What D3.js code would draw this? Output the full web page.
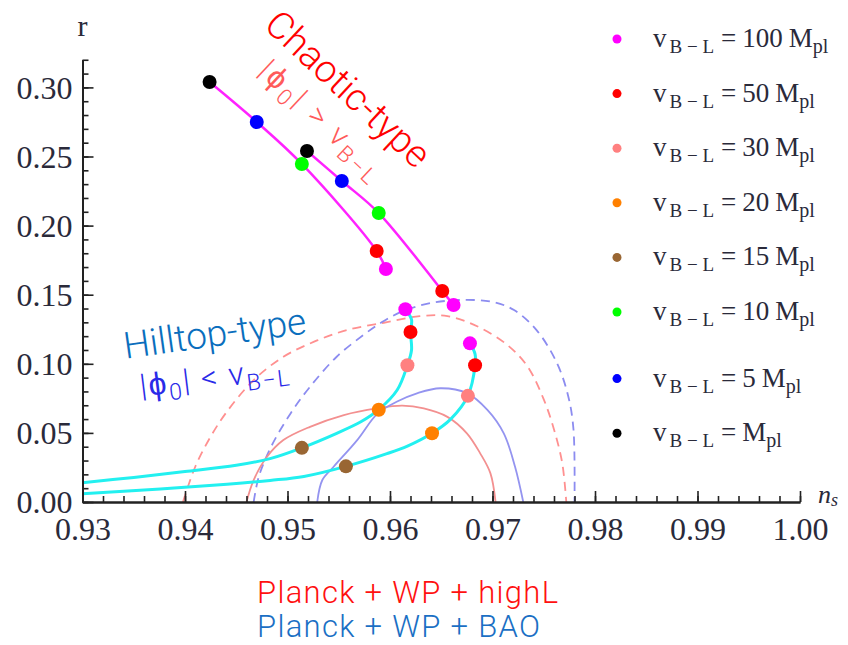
<!DOCTYPE html>
<html>
<head>
<meta charset="utf-8">
<script src="https://cdn.jsdelivr.net/npm/d3@7/dist/d3.min.js"></script>
<style>
  body { margin: 0; background: #fff; }
  svg { display: block; }
</style>
</head>
<body>
<script>
//---->DATA<-----//
// legend categories, v_B-L in units of M_pl
const vKeys = ['100', '50', '30', '20', '15', '10', '5', '1'];
const vLabels = ['100', '50', '30', '20', '15', '10', '5', ''];
const vColors = ['#ff00ff', '#ff0000', '#ff8080', '#ff8000', '#996633', '#00ff00', '#0000ff', '#000000'];

// chaotic-type branches: [v, n_s, r]
const chaoticA = [['1', 0.9424, 0.3039], ['5', 0.9470, 0.2750], ['10', 0.9514, 0.2446], ['50', 0.9587, 0.1816], ['100', 0.9596, 0.1686]];
const chaoticB = [['1', 0.9519, 0.2540], ['5', 0.9553, 0.2323], ['10', 0.9589, 0.2091], ['50', 0.9651, 0.1527], ['100', 0.9662, 0.1425]];

// hilltop-type branches: curve [n_s, r] and points [v, n_s, r]
const hilltopCurveA = [[0.930, 0.0140], [0.935, 0.0178], [0.940, 0.0220], [0.945, 0.0266], [0.9483, 0.0314], [0.9514, 0.0392], [0.9548, 0.0497], [0.9572, 0.0582], [0.9589, 0.0668], [0.9607, 0.0810], [0.9617, 0.0990], [0.9621, 0.1100], [0.9620, 0.1230], [0.9621, 0.1320], [0.9615, 0.1395]];
const hilltopCurveB = [[0.930, 0.0060], [0.9376, 0.0094], [0.9441, 0.0128], [0.9483, 0.0156], [0.9516, 0.0185], [0.9557, 0.0258], [0.9597, 0.0350], [0.9617, 0.0405], [0.9641, 0.0498], [0.9659, 0.0598], [0.9676, 0.0768], [0.9683, 0.0990], [0.9683, 0.1070], [0.9678, 0.1148]];
const hilltopDotsA = [['15', 0.9514, 0.0392], ['20', 0.9589, 0.0668], ['30', 0.9617, 0.0990], ['50', 0.9620, 0.1230], ['100', 0.9615, 0.1395]];
const hilltopDotsB = [['15', 0.9557, 0.0258], ['20', 0.9641, 0.0498], ['30', 0.9676, 0.0768], ['50', 0.9683, 0.0990], ['100', 0.9678, 0.1148]];

// Planck contours [n_s, r]
const highL68 = [[0.9460, 0], [0.9467, 0.0159], [0.9480, 0.0327], [0.9496, 0.0448], [0.9522, 0.0544], [0.9555, 0.0629], [0.9587, 0.0677], [0.9612, 0.0697], [0.9633, 0.0677], [0.9656, 0.0616], [0.9675, 0.0497], [0.9688, 0.0352], [0.9698, 0.0207], [0.9703, 0]];
const highL95 = [[0.9398, 0], [0.9410, 0.0255], [0.9425, 0.0473], [0.9441, 0.0655], [0.9467, 0.0882], [0.9496, 0.1051], [0.9526, 0.1160], [0.9558, 0.1244], [0.9594, 0.1297], [0.9629, 0.1345], [0.9656, 0.1345], [0.9685, 0.1272], [0.9714, 0.1139], [0.9734, 0.0983], [0.9750, 0.0742], [0.9760, 0.0525], [0.9768, 0.0283], [0.9772, 0]];
const bao68 = [[0.9529, 0], [0.9534, 0.0159], [0.9545, 0.0255], [0.9568, 0.0448], [0.9588, 0.0641], [0.9607, 0.0727], [0.9627, 0.0788], [0.9649, 0.0823], [0.9675, 0.0788], [0.9695, 0.0667], [0.9711, 0.0497], [0.9722, 0.0255], [0.9730, 0]];
const bao95 = [[0.9467, 0], [0.9472, 0.0183], [0.9484, 0.0400], [0.9503, 0.0641], [0.9522, 0.0834], [0.9548, 0.1051], [0.9574, 0.1208], [0.9594, 0.1310], [0.9614, 0.1385], [0.9640, 0.1440], [0.9670, 0.1462], [0.9700, 0.1448], [0.9721, 0.1389], [0.9743, 0.1244], [0.9763, 0.1003], [0.9774, 0.0762], [0.9779, 0.0525], [0.9780, 0]];

// axes
const xTicks = [0.93, 0.94, 0.95, 0.96, 0.97, 0.98, 0.99, 1.00];
const xMinor = d3.range(0, 36).map(i => 0.93 + i * 0.002);
const yTicks = [0, 0.05, 0.10, 0.15, 0.20, 0.25, 0.30];
const yMinor = d3.range(0, 33).map(i => i * 0.01);

//---->GLOBALS<-----//
const W = 848, H = 645;
const svg = d3.select('body').append('svg').attr('width', W).attr('height', H);

let x, y, line;

const serif = '"Liberation Serif", "DejaVu Serif", serif';
const sans = 'Roboto, "Liberation Sans", sans-serif';

function colorOf(k) {
  return vColors[vKeys.indexOf(k)];
}

function drawAxes() {
  const g = svg.append('g').attr('class', 'axes');

  // minor ticks
  g.append('g')
    .attr('transform', `translate(${x(0.93)},0)`)
    .call(d3.axisLeft(y).tickValues(yMinor).tickSizeInner(-6).tickSizeOuter(0).tickFormat(''));
  g.append('g')
    .attr('transform', `translate(0,${y(0)})`)
    .call(d3.axisBottom(x).tickValues(xMinor).tickSizeInner(-6).tickSizeOuter(0).tickFormat(''));

  // major ticks + labels
  g.append('g')
    .attr('class', 'yaxis')
    .attr('transform', `translate(${x(0.93)},0)`)
    .call(d3.axisLeft(y).tickValues(yTicks).tickSizeInner(-11).tickSizeOuter(0).tickPadding(10).tickFormat(d3.format('.2f')));
  g.append('g')
    .attr('class', 'xaxis')
    .attr('transform', `translate(0,${y(0)})`)
    .call(d3.axisBottom(x).tickValues(xTicks).tickSizeInner(-11).tickSizeOuter(0).tickPadding(13).tickFormat(d3.format('.2f')));

  g.selectAll('path.domain').attr('stroke', '#222').attr('stroke-width', 2);
  g.selectAll('.tick line').attr('stroke', '#222').attr('stroke-width', 1.6);
  g.selectAll('.tick text')
    .attr('font-family', serif)
    .attr('font-size', 32)
    .attr('fill', '#2a2a3a');
  g.select('.yaxis').selectAll('.tick text').attr('dy', '0.34em');
  g.select('.xaxis').selectAll('.tick text').attr('dy', '0.78em');

  // axis labels
  svg.append('text')
    .attr('x', x(0.93))
    .attr('y', 36)
    .attr('text-anchor', 'middle')
    .attr('font-family', serif)
    .attr('font-size', 30)
    .attr('fill', '#2a2a3a')
    .text('r');

  const ns = svg.append('text')
    .attr('x', 818)
    .attr('y', 503)
    .attr('font-family', serif)
    .attr('font-style', 'italic')
    .attr('font-size', 26)
    .attr('fill', '#2a2a3a');
  ns.append('tspan').text('n');
  ns.append('tspan').attr('font-size', 18).attr('dy', 3).text('s');
}

function drawContours() {
  const g = svg.append('g').attr('class', 'contours').attr('fill', 'none').attr('stroke-width', 1.8);
  g.append('path').datum(highL95).attr('d', line).attr('stroke', '#ff9090').attr('stroke-dasharray', '9,6');
  g.append('path').datum(bao95).attr('d', line).attr('stroke', '#8c8cf0').attr('stroke-dasharray', '9,6');
  g.append('path').datum(highL68).attr('d', line).attr('stroke', '#f39090');
  g.append('path').datum(bao68).attr('d', line).attr('stroke', '#9494f0');
}

function drawBranches() {
  const g = svg.append('g').attr('class', 'branches').attr('fill', 'none');

  [hilltopCurveA, hilltopCurveB].forEach(c => {
    g.append('path').datum(c).attr('d', line).attr('stroke', '#22f0f0').attr('stroke-width', 3);
  });

  [chaoticA, chaoticB].forEach(c => {
    g.append('path').datum(c.map(d => [d[1], d[2]])).attr('d', line).attr('stroke', '#ff22ff').attr('stroke-width', 2.5);
  });

  const dots = [].concat(chaoticA, chaoticB, hilltopDotsA, hilltopDotsB);
  svg.append('g')
    .attr('class', 'dots')
    .selectAll('circle')
    .data(dots)
    .enter()
    .append('circle')
    .attr('cx', d => x(d[1]))
    .attr('cy', d => y(d[2]))
    .attr('r', 7)
    .attr('fill', d => colorOf(d[0]));
}

function drawLegend() {
  const g = svg.append('g').attr('class', 'legend');
  const rows = g.selectAll('g')
    .data(vKeys)
    .enter()
    .append('g')
    .attr('transform', (d, i) => `translate(0,${39 + i * 54.6 + (i >= 6 ? 12 : 0)})`);

  rows.append('circle')
    .attr('cx', 617)
    .attr('cy', 0)
    .attr('r', 4.5)
    .attr('fill', d => colorOf(d));

  const t = rows.append('text')
    .attr('x', 653)
    .attr('y', 8)
    .attr('font-family', serif)
    .attr('font-size', 27)
    .attr('fill', '#2a2a3a');
  t.append('tspan').text('v');
  t.append('tspan').attr('font-size', 19).attr('dx', 3).attr('dy', 6).text('B \u2212 L');
  t.append('tspan').attr('dx', 7).attr('dy', -6).text('=');
  t.append('tspan').attr('dx', (d, i) => vLabels[i] ? 6 : 0).text((d, i) => vLabels[i]);
  t.append('tspan').attr('dx', 6).text('M');
  t.append('tspan').attr('font-size', 20).attr('dy', 6).text('pl');
}

function subText(sel, parts) {
  // parts: [text, isSubscript]
  let sub = false;
  parts.forEach(p => {
    const ts = sel.append('tspan').text(p[0]);
    if (p[1] && !sub) { ts.attr('font-size', '0.72em').attr('dy', '0.3em'); sub = true; }
    else if (p[1] && sub) { ts.attr('font-size', '0.72em'); }
    else if (!p[1] && sub) { ts.attr('dy', '-0.216em'); sub = false; }
  });
}

function drawAnnotations() {
  svg.append('text')
    .attr('transform', 'translate(347,90) rotate(43)')
    .attr('text-anchor', 'middle')
    .attr('dy', '0.3em')
    .attr('font-family', sans)
    .attr('font-weight', 300)
    .attr('font-size', 38)
    .attr('fill', '#ff0000')
    .text('Chaotic-type');

  const c2 = svg.append('text')
    .attr('transform', 'translate(322,121) rotate(43)')
    .attr('text-anchor', 'middle')
    .attr('dy', '0.3em')
    .attr('font-family', sans)
    .attr('font-weight', 300)
    .attr('font-size', 31)
    .attr('letter-spacing', 3)
    .attr('fill', '#ff5a5a');
  subText(c2, [['|\u03d5', false], ['0', true], ['| > v', false], ['B\u2212L', true]]);

  svg.append('text')
    .attr('transform', 'translate(215,335) rotate(-8)')
    .attr('text-anchor', 'middle')
    .attr('dy', '0.3em')
    .attr('font-family', sans)
    .attr('font-weight', 300)
    .attr('font-size', 37)
    .attr('fill', '#0a6ebd')
    .text('Hilltop-type');

  const h2 = svg.append('text')
    .attr('transform', 'translate(215,378) rotate(-7)')
    .attr('text-anchor', 'middle')
    .attr('dy', '0.3em')
    .attr('font-family', sans)
    .attr('font-weight', 300)
    .attr('font-size', 32)
    .attr('letter-spacing', 1.8)
    .attr('fill', '#2a2ae8');
  subText(h2, [['|\u03d5', false], ['0', true], ['| < v', false], ['B\u2212L', true]]);

  svg.append('text')
    .attr('x', 257).attr('y', 603)
    .attr('font-family', sans)
    .attr('font-weight', 300)
    .attr('font-size', 31)
    .attr('letter-spacing', 1.3)
    .attr('fill', '#ff1010')
    .text('Planck + WP + highL');

  svg.append('text')
    .attr('x', 257).attr('y', 637)
    .attr('font-family', sans)
    .attr('font-weight', 300)
    .attr('font-size', 31)
    .attr('letter-spacing', 1.3)
    .attr('fill', '#1a6fc4')
    .text('Planck + WP + BAO');
}

function setup() {
  x = d3.scaleLinear().domain([0.93, 1.00]).range([82.5, 800]);
  y = d3.scaleLinear().domain([0, 0.32]).range([502, 502 - 0.32 * 1382]);

  line = d3.line()
    .x(d => x(d[0]))
    .y(d => y(d[1]))
    .curve(d3.curveCatmullRom.alpha(0.5));

  drawContours();
  drawBranches();
  drawAxes();
  drawLegend();
  drawAnnotations();
}

setup();
</script>
</body>
</html>
